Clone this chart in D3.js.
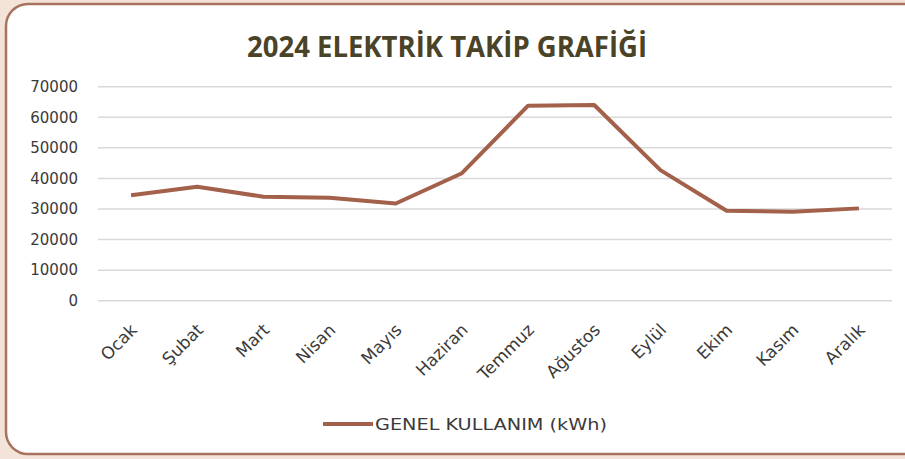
<!DOCTYPE html>
<html>
<head>
<meta charset="utf-8">
<script src="https://cdn.jsdelivr.net/npm/d3@7"></script>
<style>
  html, body { margin: 0; padding: 0; background: #f3e3d8; }
  #chart { width: 905px; height: 459px; }
</style>
</head>
<body>
<div id="chart"></div>
<script>
// Aylık elektrik kullanımı (kWh)
const months = ["Ocak", "Şubat", "Mart", "Nisan", "Mayıs", "Haziran", "Temmuz", "Ağustos", "Eylül", "Ekim", "Kasım", "Aralık"];
const usage = [34500, 37300, 34000, 33700, 31800, 41700, 63800, 64000, 42700, 29400, 29100, 30200];
const yTicks = [0, 10000, 20000, 30000, 40000, 50000, 60000, 70000];
const title = "2024 ELEKTRİK TAKİP GRAFİĞİ";
const seriesName = "GENEL KULLANIM (kWh)";

const W = 905, H = 459;
const lineColor = "#a3614b";
const labelFont = "'DejaVu Sans', sans-serif";
const labelColor = "#3a3a3a";

const svg = d3.select("#chart").append("svg")
    .attr("width", W)
    .attr("height", H);

// Frame
svg.append("rect")
    .attr("x", 6).attr("y", 4)
    .attr("width", W + 20).attr("height", 450)
    .attr("rx", 22)
    .attr("fill", "#fff")
    .attr("stroke", "#a8735e")
    .attr("stroke-width", 2.5);

// Title
svg.append("text")
    .attr("x", 247).attr("y", 57)
    .attr("textLength", 400)
    .attr("lengthAdjust", "spacingAndGlyphs")
    .style("font-family", "'Open Sans', sans-serif")
    .style("font-weight", 700)
    .style("font-size", "28px")
    .attr("fill", "#4a4328")
    .text(title);

// Scales
const x = d3.scaleBand()
    .domain(months)
    .range([98, 892]);

const y = d3.scaleLinear()
    .domain([0, 70000])
    .range([300.7, 86.7]);

// Grid lines
svg.append("g").selectAll("line")
    .data(yTicks)
    .join("line")
        .attr("x1", 98)
        .attr("x2", 892)
        .attr("y1", d => y(d))
        .attr("y2", d => y(d))
        .attr("stroke", "#d9d9d9")
        .attr("stroke-width", 1.5);

// Y axis
const yAxis = svg.append("g")
    .attr("transform", "translate(86,0)")
    .call(d3.axisLeft(y).tickValues(yTicks).tickSize(0).tickPadding(8).tickFormat(d3.format("d")));
yAxis.select(".domain").remove();
yAxis.selectAll("text")
    .style("font-family", labelFont)
    .style("font-size", "15px")
    .attr("fill", labelColor);

// X axis
const xAxis = svg.append("g")
    .attr("transform", "translate(0,306)")
    .call(d3.axisBottom(x).tickSize(0).tickPadding(0));
xAxis.select(".domain").remove();
xAxis.selectAll("text")
    .style("font-family", labelFont)
    .style("font-size", "17px")
    .attr("fill", labelColor)
    .attr("text-anchor", "end")
    .attr("y", 0)
    .attr("dy", 0)
    .attr("transform", "translate(7,25) rotate(-45)");

// Line
const line = d3.line()
    .x((d, i) => x(months[i]) + x.bandwidth() / 2)
    .y(d => y(d));

svg.append("path")
    .datum(usage)
    .attr("d", line)
    .attr("fill", "none")
    .attr("stroke", lineColor)
    .attr("stroke-width", 4)
    .attr("stroke-linejoin", "round");

// Legend
const legend = svg.append("g").attr("transform", "translate(323,424)");
legend.append("line")
    .attr("x1", 0).attr("x2", 50)
    .attr("stroke", lineColor)
    .attr("stroke-width", 4);
legend.append("text")
    .attr("x", 52)
    .attr("dy", "0.35em")
    .attr("textLength", 232)
    .attr("lengthAdjust", "spacingAndGlyphs")
    .style("font-family", labelFont)
    .style("font-size", "16px")
    .attr("fill", labelColor)
    .text(seriesName);
</script>
</body>
</html>
